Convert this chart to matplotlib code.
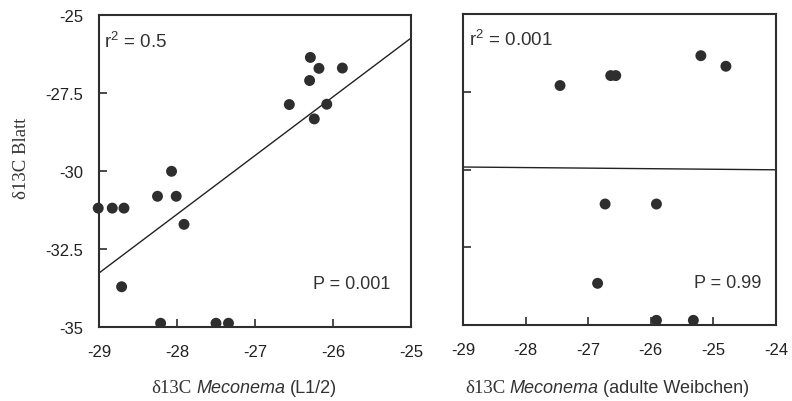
import matplotlib
matplotlib.use("Agg")
import matplotlib.pyplot as plt
from matplotlib.patches import Rectangle
from matplotlib.transforms import IdentityTransform

# ---- data ----
xL = [-26.29, -26.18, -25.88, -26.30, -26.56, -26.08, -26.24, -28.07, -28.25,
      -28.01, -29.01, -28.83, -28.68, -27.91, -28.71, -28.21, -27.50, -27.34]
yL = [-26.36, -26.71, -26.70, -27.10, -27.87, -27.86, -28.33, -30.01, -30.81,
      -30.81, -31.19, -31.19, -31.19, -31.71, -33.71, -34.88, -34.88, -34.88]
fitL_x = [-29, -25]
fitL_y = [-33.27, -25.74]

xR = [-27.45, -26.64, -26.56, -25.20, -24.80, -26.73, -25.91, -26.85, -25.91, -25.32]
yR = [-27.30, -26.98, -26.98, -26.34, -26.68, -31.11, -31.11, -33.66, -34.85, -34.85]
fitR_x = [-29, -24]
fitR_y = [-29.92, -30.01]

xticksL = [-29, -28, -27, -26, -25]
xticksR = [-29, -28, -27, -26, -25, -24]
yticks = [-35, -32.5, -30, -27.5, -25]
yticklabels = ["-35", "-32.5", "-30", "-27.5", "-25"]

statsL = ("r$^2$ = 0.5", "P = 0.001")
statsR = ("r$^2$ = 0.001", "P = 0.99")

# ---- style ----
SANS = ["Liberation Sans", "DejaVu Sans"]
SERIF = ["Liberation Serif", "DejaVu Serif"]
INK = "#2e2e2e"
plt.rcParams["font.family"] = SANS
plt.rcParams["mathtext.fontset"] = "custom"
plt.rcParams["mathtext.rm"] = "Liberation Sans"

fig = plt.figure(figsize=(7.92, 4.02), dpi=100)
axL = fig.add_axes([99/792, 1-328/402, 312/792, 312/402])
axR = fig.add_axes([463/792, 1-326/402, 313/792, 311/402])


def style(ax, xt, xlim, show_ylabels):
    ax.set_xlim(*xlim)
    ax.set_ylim(-35, -25)
    ax.set_xticks(xt)
    ax.set_xticklabels([str(v) for v in xt])
    ax.set_yticks(yticks)
    if show_ylabels:
        ax.set_yticklabels(yticklabels)
    else:
        ax.set_yticklabels([])
    for s in ax.spines.values():
        s.set_linewidth(1.5)
        s.set_color(INK)
    ax.tick_params(direction="in", length=6, width=1.2, color=INK,
                   labelsize=12, labelcolor="#222222")
    ax.tick_params(axis="x", pad=12)
    ax.tick_params(axis="y", pad=11.5)


style(axL, xticksL, (-29, -25), True)
style(axR, xticksR, (-29, -24), False)

for ax, xs, ys, fx, fy in [(axL, xL, yL, fitL_x, fitL_y),
                           (axR, xR, yR, fitR_x, fitR_y)]:
    sc = ax.scatter(xs, ys, s=62, color=INK, edgecolors="none", zorder=3)
    sc.set_clip_path(Rectangle((-0.1, 0.0), 1.2, 1.2, transform=ax.transAxes))
    ax.plot(fx, fy, color="#222222", lw=1.0, clip_on=False, zorder=2)

axL.text(0.016, 0.917, statsL[0], transform=axL.transAxes, fontsize=13.5,
         ha="left", va="center", color="#333333")
axL.text(0.933, 0.138, statsL[1], transform=axL.transAxes, fontsize=13,
         ha="right", va="center", color="#333333")
axR.text(0.019, 0.92, statsR[0], transform=axR.transAxes, fontsize=13.5,
         ha="left", va="center", color="#333333")
axR.text(0.952, 0.138, statsR[1], transform=axR.transAxes, fontsize=13,
         ha="right", va="center", color="#333333")

# y label (serif)
fig.text(22/792, 1-158/402, "δ13C Blatt", rotation=90, ha="center", va="center",
         family=SERIF, fontsize=13.5, color="#333333")

# compound x labels
renderer = fig.canvas.get_renderer()


def compound(pieces, xc, baseline_px):
    texts = []
    for s, kw in pieces:
        t = fig.text(0, 0, s, transform=IdentityTransform(), ha="left",
                     va="baseline", color="#333333", **kw)
        texts.append(t)
    gap = 4.5
    widths = [t.get_window_extent(renderer).width for t in texts]
    total = sum(widths) + gap * (len(texts) - 1)
    x = xc - total / 2
    y = 402 - baseline_px
    for t, w in zip(texts, widths):
        t.set_position((x, y))
        x += w + gap


compound([("δ13C", dict(family=SERIF, fontsize=13.5)),
          ("Meconema", dict(family=SANS, style="italic", fontsize=13)),
          ("(L1/2)", dict(family=SANS, fontsize=13))], 244, 393)
compound([("δ13C", dict(family=SERIF, fontsize=13.5)),
          ("Meconema", dict(family=SANS, style="italic", fontsize=13)),
          ("(adulte Weibchen)", dict(family=SANS, fontsize=13))], 607, 393)

fig.savefig("out.png", dpi=100)
